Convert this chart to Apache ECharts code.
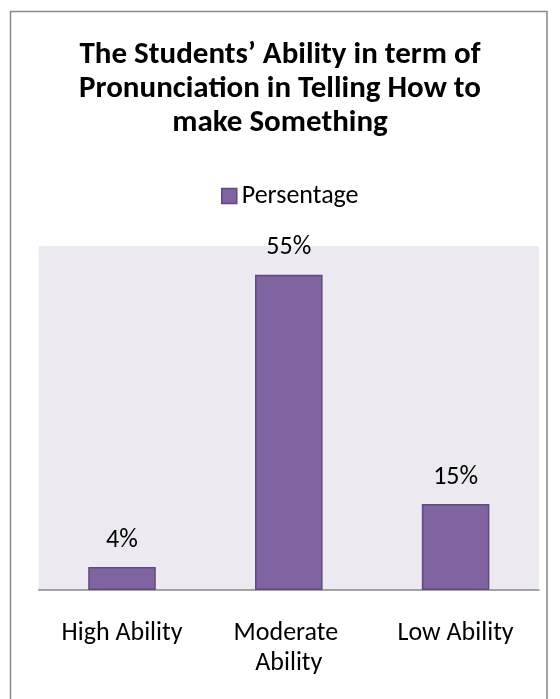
<!DOCTYPE html>
<html>
<head>
<meta charset="utf-8">
<script src="https://cdn.jsdelivr.net/npm/echarts@6/dist/echarts.min.js"></script>
<style>
html,body{margin:0;padding:0;background:#fff;}
#chart{width:560px;height:699px;}
</style>
</head>
<body>
<div id="chart"></div>
<script>
const titleText = "The Students’ Ability in term of\nPronunciation in Telling How to\nmake Something";
const seriesName = "Persentage";
const categories = ["High Ability", "Moderate Ability", "Low Ability"];
const values = [4, 55, 15];
const labelTexts = ["4%", "55%", "15%"];

const FONT = "Carlito, Calibri, Lato, sans-serif";
const chart = echarts.init(document.getElementById('chart'), null, {renderer: 'canvas'});
chart.setOption({
  backgroundColor: '#ffffff',
  animation: false,
  graphic: [{
    type: 'rect',
    shape: {x: 10.5, y: 11.5, width: 536.5, height: 720},
    style: {fill: 'none', stroke: '#888888', lineWidth: 1.5},
    z: 100
  }],
  title: {
    text: titleText,
    left: 'center',
    top: 33,
    textStyle: {fontFamily: FONT, fontSize: 31, fontWeight: 'bold', color: '#000', lineHeight: 34}
  },
  legend: {
    data: [seriesName],
    top: 178,
    left: 216,
    itemWidth: 15,
    itemHeight: 15,
    itemGap: 8,
    icon: 'rect',
    itemStyle: {color: '#8064A2', borderColor: '#5E4A7E', borderWidth: 1.5},
    textStyle: {fontFamily: FONT, fontSize: 26, color: '#000', padding: [0, 0, 0, 0]}
  },
  grid: {
    left: 38.6, right: 21, top: 246, bottom: 109,
    show: true, backgroundColor: '#ECEAF0', borderWidth: 0
  },
  xAxis: {
    type: 'category',
    data: categories,
    axisTick: {show: false},
    axisLine: {lineStyle: {color: '#888888', width: 1.5}},
    axisLabel: {
      fontFamily: FONT, fontSize: 26, color: '#000', margin: 28,
      width: 150, overflow: 'break', lineHeight: 30, interval: 0
    }
  },
  yAxis: {
    type: 'value',
    min: 0, max: 60,
    show: false,
    splitLine: {show: false}
  },
  series: [{
    name: seriesName,
    type: 'bar',
    data: values,
    barWidth: '40.5%',
    itemStyle: {color: '#8064A2', borderColor: '#5E4A7E', borderWidth: 1.5},
    label: {
      show: true, position: 'top', distance: 14,
      fontFamily: FONT, fontSize: 26, color: '#000',
      formatter: p => labelTexts[p.dataIndex]
    }
  }]
});
</script>
</body>
</html>
